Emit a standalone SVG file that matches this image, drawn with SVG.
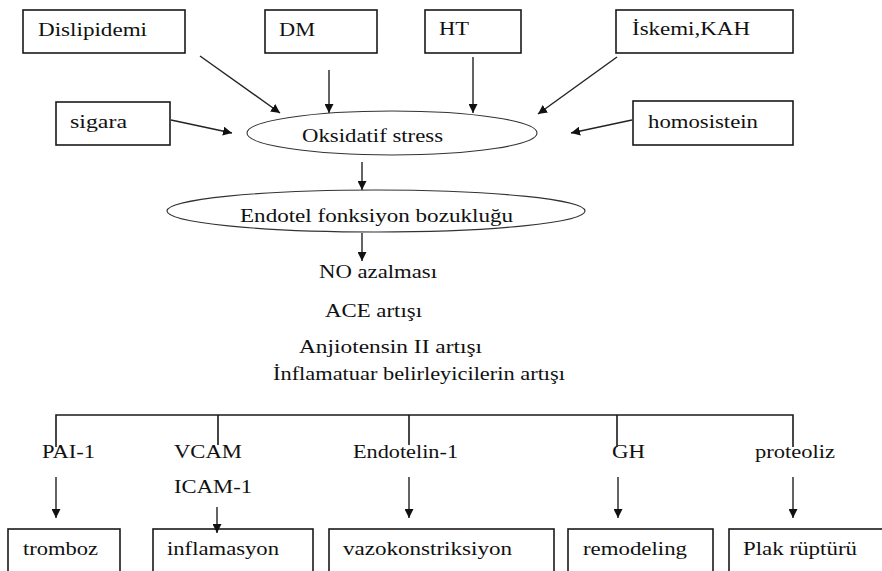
<svg xmlns="http://www.w3.org/2000/svg" width="882" height="571" viewBox="0 0 882 571">
<style>
.box{fill:#fff;stroke:#1a1a1a;stroke-width:1.6}
.ell{fill:#fff;stroke:#333;stroke-width:1.1}
.t{font-family:"Liberation Serif","Times New Roman",serif;font-size:18px;fill:#111}
.c{stroke:#222;stroke-width:1.4;fill:none}
.ln{stroke:#1a1a1a;stroke-width:1.6;fill:none}
</style>
<defs>
<marker id="ah" viewBox="0 0 10 10" refX="10" refY="5" markerWidth="9" markerHeight="9" markerUnits="userSpaceOnUse" orient="auto">
<path d="M0,0 L10,5 L0,10 z" fill="#111"/>
</marker>
</defs>
<rect width="882" height="571" fill="#fff"/>
<g id="dislipidemi"><rect class="box" x="23" y="10" width="162" height="43"/><text class="t" x="38" y="36" textLength="109" lengthAdjust="spacingAndGlyphs">Dislipidemi</text></g>
<g id="dm"><rect class="box" x="265" y="10" width="112" height="43"/><text class="t" x="279" y="36" textLength="36" lengthAdjust="spacingAndGlyphs">DM</text></g>
<g id="ht"><rect class="box" x="425" y="10" width="96" height="43"/><text class="t" x="439" y="35" textLength="30" lengthAdjust="spacingAndGlyphs">HT</text></g>
<g id="iskemi"><rect class="box" x="616" y="10" width="177" height="43"/><text class="t" x="632" y="35" textLength="118" lengthAdjust="spacingAndGlyphs">İskemi,KAH</text></g>
<g id="sigara"><rect class="box" x="56" y="102" width="114" height="43"/><text class="t" x="70" y="128" textLength="57" lengthAdjust="spacingAndGlyphs">sigara</text></g>
<g id="homosistein"><rect class="box" x="633" y="101" width="160" height="44"/><text class="t" x="648" y="128" textLength="110" lengthAdjust="spacingAndGlyphs">homosistein</text></g>
<g id="oksidatif"><ellipse class="ell" cx="392" cy="133" rx="145" ry="22"/><text class="t" x="302" y="142" textLength="141" lengthAdjust="spacingAndGlyphs">Oksidatif stress</text></g>
<g id="endotel"><ellipse class="ell" cx="376" cy="211" rx="209" ry="21"/><text class="t" x="240" y="222" textLength="273" lengthAdjust="spacingAndGlyphs">Endotel fonksiyon bozukluğu</text></g>
<g id="mediators">
<text class="t" x="319" y="278" textLength="118" lengthAdjust="spacingAndGlyphs">NO azalması</text>
<text class="t" x="325" y="317" textLength="97" lengthAdjust="spacingAndGlyphs">ACE artışı</text>
<text class="t" x="299" y="353" textLength="183" lengthAdjust="spacingAndGlyphs">Anjiotensin II artışı</text>
<text class="t" x="273" y="380" textLength="292" lengthAdjust="spacingAndGlyphs">İnflamatuar belirleyicilerin artışı</text>
</g>
<g id="pai1"><text class="t" x="42" y="458" textLength="53" lengthAdjust="spacingAndGlyphs">PAI-1</text></g>
<g id="vcam"><text class="t" x="174" y="458" textLength="68" lengthAdjust="spacingAndGlyphs">VCAM</text><text class="t" x="174" y="493" textLength="78" lengthAdjust="spacingAndGlyphs">ICAM-1</text></g>
<g id="endotelin"><text class="t" x="353" y="458" textLength="105" lengthAdjust="spacingAndGlyphs">Endotelin-1</text></g>
<g id="gh"><text class="t" x="612" y="458" textLength="33" lengthAdjust="spacingAndGlyphs">GH</text></g>
<g id="proteoliz"><text class="t" x="755" y="458" textLength="80" lengthAdjust="spacingAndGlyphs">proteoliz</text></g>
<g id="tromboz"><rect class="box" x="8" y="529" width="112" height="60"/><text class="t" x="23" y="555" textLength="75" lengthAdjust="spacingAndGlyphs">tromboz</text></g>
<g id="inflamasyon"><rect class="box" x="153" y="529" width="160" height="60"/><text class="t" x="167" y="555" textLength="112" lengthAdjust="spacingAndGlyphs">inflamasyon</text></g>
<g id="vazokonstriksiyon"><rect class="box" x="329" y="529" width="225" height="60"/><text class="t" x="343" y="555" textLength="169" lengthAdjust="spacingAndGlyphs">vazokonstriksiyon</text></g>
<g id="remodeling"><rect class="box" x="568" y="529" width="145" height="60"/><text class="t" x="583" y="555" textLength="104" lengthAdjust="spacingAndGlyphs">remodeling</text></g>
<g id="plak"><rect class="box" x="729" y="529" width="170" height="60"/><text class="t" x="743" y="555" textLength="114" lengthAdjust="spacingAndGlyphs">Plak rüptürü</text></g>
<g id="connectors">
<line class="c" x1="200" y1="56" x2="280" y2="113" marker-end="url(#ah)"/>
<line class="c" x1="329" y1="70" x2="329" y2="113" marker-end="url(#ah)"/>
<line class="c" x1="473" y1="57" x2="473" y2="113" marker-end="url(#ah)"/>
<line class="c" x1="617" y1="57" x2="538" y2="114" marker-end="url(#ah)"/>
<line class="c" x1="171" y1="120" x2="232" y2="133" marker-end="url(#ah)"/>
<line class="c" x1="632" y1="120" x2="571" y2="133" marker-end="url(#ah)"/>
<line class="c" x1="362" y1="162" x2="362" y2="190" marker-end="url(#ah)"/>
<line class="c" x1="362" y1="233" x2="362" y2="261" marker-end="url(#ah)"/>
<path class="ln" d="M56,447 V415 H793 V447 M218,415 V445 M409,415 V445 M617,415 V447"/>
<line class="c" x1="56" y1="477" x2="56" y2="518" marker-end="url(#ah)"/>
<line class="c" x1="217" y1="507" x2="217" y2="533" marker-end="url(#ah)"/>
<line class="c" x1="409" y1="477" x2="409" y2="518" marker-end="url(#ah)"/>
<line class="c" x1="618" y1="477" x2="618" y2="518" marker-end="url(#ah)"/>
<line class="c" x1="793" y1="477" x2="793" y2="518" marker-end="url(#ah)"/>
</g>
</svg>
